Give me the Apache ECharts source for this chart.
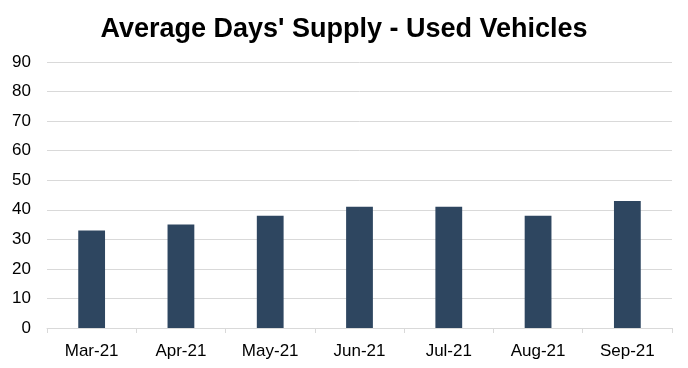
<!DOCTYPE html>
<html><head><meta charset="utf-8">
<script src="https://cdn.jsdelivr.net/npm/echarts@6/dist/echarts.min.js"></script>
<style>html,body{margin:0;padding:0;background:#fff}#c{width:688px;height:368px}</style>
</head><body><div id="c"></div>
<script>
const titleText = "Average Days' Supply - Used Vehicles";
const categories = ["Mar-21","Apr-21","May-21","Jun-21","Jul-21","Aug-21","Sep-21"];
const values = [33, 35, 38, 41, 41, 38, 43];
const yMin = 0, yMax = 90, yStep = 10;

const chart = echarts.init(document.getElementById('c'), null, {renderer:'canvas'});
chart.setOption({
  animation: false,
  backgroundColor: '#ffffff',
  title: {
    text: titleText, left: 'center', top: 11,
    textStyle: {fontFamily: 'Liberation Sans, Arial, sans-serif', fontWeight: 'bold', fontSize: 27, color: '#000'}
  },
  grid: {left: 47, right: 16, top: 62, bottom: 40},
  xAxis: {
    type: 'category', data: categories,
    axisLine: {lineStyle: {color: '#d9d9d9', width: 1}},
    axisTick: {show: true, alignWithLabel: false, length: 5, lineStyle: {color: '#d9d9d9'}},
    axisLabel: {color: '#000', fontSize: 17, fontFamily: 'Liberation Sans, Arial, sans-serif', margin: 15}
  },
  yAxis: {
    type: 'value', min: yMin, max: yMax, interval: yStep,
    axisLine: {show: false}, axisTick: {show: false},
    splitLine: {lineStyle: {color: '#d9d9d9', width: 1}},
    axisLabel: {color: '#000', fontSize: 17, fontFamily: 'Liberation Sans, Arial, sans-serif', margin: 16}
  },
  series: [{
    type: 'bar', data: values, barWidth: '30%',
    itemStyle: {color: '#2E4660'}
  }]
});
</script></body></html>
